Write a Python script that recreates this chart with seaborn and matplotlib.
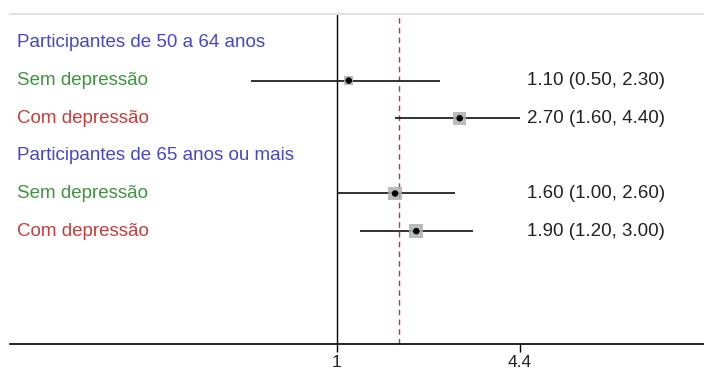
import numpy as np
import pandas as pd
import matplotlib.pyplot as plt
import seaborn as sns

# Forest plot data
labels = ["Participantes de 50 a 64 anos", "Sem depressão", "Com depressão",
          "Participantes de 65 anos ou mais", "Sem depressão", "Com depressão"]
kinds = ["header", "sem", "com", "header", "sem", "com"]
estimate = [np.nan, 1.10, 2.70, np.nan, 1.60, 1.90]
lower = [np.nan, 0.50, 1.60, np.nan, 1.00, 1.20]
upper = [np.nan, 2.30, 4.40, np.nan, 2.60, 3.00]
weight = [np.nan, 40, 70, np.nan, 75, 80]
overall = 1.65
xticks = [1, 4.4]

colors = {"header": "#4646c8", "sem": "#3c963c", "com": "#c83c3c"}

df = pd.DataFrame({"label": labels, "kind": kinds, "est": estimate,
                   "lo": lower, "hi": upper, "w": weight})
df["row"] = range(len(df))
pts = df.dropna()

sns.set_style("white")
plt.rcParams["font.family"] = ["Liberation Sans", "DejaVu Sans"]

fig = plt.figure(figsize=(7.04, 3.70), dpi=100)
ax = fig.add_axes([10 / 704, 26 / 370, 694 / 704, 330 / 370])

ax.set_xscale("log")
ax.set_xlim(0.0709, 19.5)
ax.set_ylim(8.0, -0.77)

# CI lines
ax.hlines(pts["row"], pts["lo"], pts["hi"], color="#222222", lw=1.3, zorder=2)
# weight boxes + point estimates
sns.scatterplot(data=pts, x="est", y="row", size="w", sizes=(45, 100), marker="s",
                color="#b0b0b0", edgecolor="none", alpha=0.85, legend=False, ax=ax, zorder=3)
sns.scatterplot(data=pts, x="est", y="row", s=22, color="black", edgecolor="none",
                legend=False, ax=ax, zorder=4)

ax.axvline(1, color="black", lw=1.0, zorder=1)
ax.axvline(overall, color="#d03030", lw=1.0, ls=(0, (4, 3)), zorder=1)

for _, r in df.iterrows():
    ax.text(7 / 694, r["row"], r["label"], transform=ax.get_yaxis_transform(),
            color=colors[r["kind"]], fontsize=13.5, va="center", ha="left")
    if not np.isnan(r["est"]):
        ax.text(517 / 694, r["row"],
                f"{r['est']:.2f} ({r['lo']:.2f}, {r['hi']:.2f})",
                transform=ax.get_yaxis_transform(), color="#222222",
                fontsize=13.5, va="center", ha="left")

ax.set_xticks(xticks)
ax.set_xticklabels(["1", "4.4"])
ax.minorticks_off()
ax.set_yticks([])
ax.set_xlabel("")
ax.set_ylabel("")
ax.tick_params(axis="x", length=6, width=1, color="black", labelsize=12.5, pad=2, bottom=True)

for s in ["left", "right"]:
    ax.spines[s].set_visible(False)
ax.spines["bottom"].set_color("black")
ax.spines["bottom"].set_linewidth(1.2)
ax.spines["top"].set_color("#e0e0e0")
ax.spines["top"].set_linewidth(1.5)

fig.savefig("out.png", dpi=100)
